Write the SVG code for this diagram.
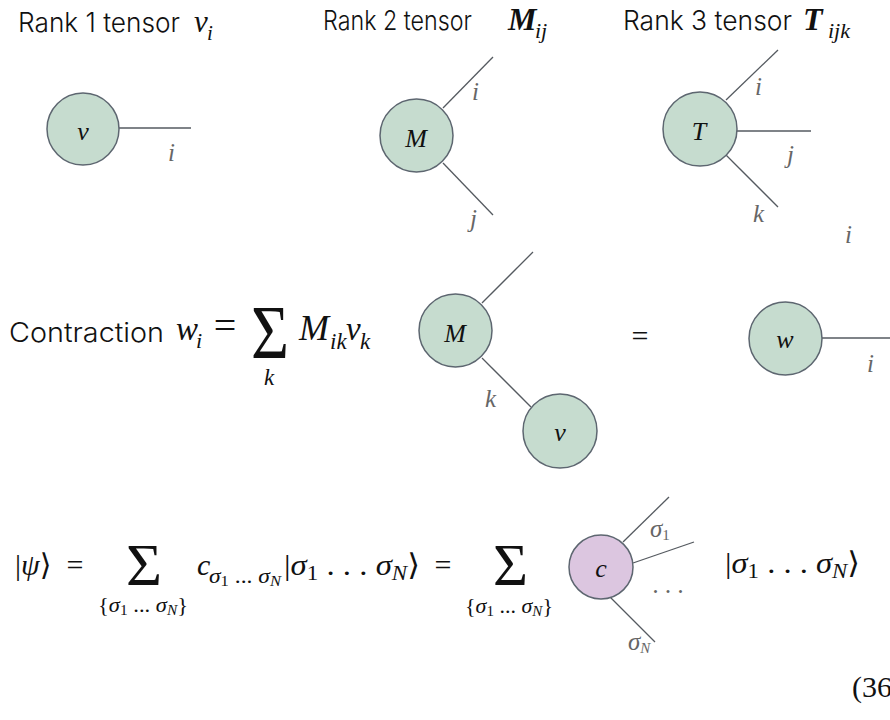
<svg xmlns="http://www.w3.org/2000/svg" width="890" height="720" viewBox="0 0 890 720">
<style>
.title{font-family:Inter,"Open Sans","Liberation Sans",sans-serif;font-weight:300;font-size:27px;fill:#111}
.m{font-family:"Liberation Serif","DejaVu Serif",serif;font-style:italic;fill:#111}
.mb{font-family:"Liberation Serif","DejaVu Serif",serif;font-style:italic;font-weight:bold;fill:#111}
.r{font-family:"Liberation Serif","DejaVu Serif",serif;fill:#111}
.node{fill:#c6dccf;stroke:#5d6670;stroke-width:1.5}
.nodep{fill:#dcc6e0;stroke:#5d6670;stroke-width:1.5}
.edge{stroke:#555a60;stroke-width:1.3;fill:none}
.lbl{font-family:"Liberation Serif","DejaVu Serif",serif;font-style:italic;fill:#666;font-size:25px}
.nl{font-family:"Liberation Serif","DejaVu Serif",serif;font-style:italic;fill:#111;font-size:26px;text-anchor:middle}
</style>
<rect width="890" height="720" fill="#fff"/>

<g id="titles">
<text class="title" x="18" y="32" textLength="162" lengthAdjust="spacingAndGlyphs">Rank 1 tensor</text>
<text class="m" x="194" y="32" font-size="31">v</text>
<text class="m" x="207" y="40" font-size="21">i</text>
<text class="title" x="323" y="30" textLength="149" lengthAdjust="spacingAndGlyphs">Rank 2 tensor</text>
<text class="mb" x="508" y="30" font-size="32">M</text>
<text class="m" x="535" y="38" font-size="22">ij</text>
<text class="title" x="623" y="30" textLength="169" lengthAdjust="spacingAndGlyphs">Rank 3 tensor</text>
<text class="mb" x="803" y="30" font-size="32">T</text>
<text class="m" x="828" y="38" font-size="22">ijk</text>
</g>

<g id="connectors">
<line class="edge" x1="119" y1="128" x2="191" y2="128"/>
<line class="edge" x1="443" y1="108" x2="493" y2="57"/>
<line class="edge" x1="443" y1="163" x2="493" y2="215"/>
<line class="edge" x1="726" y1="100" x2="778" y2="50"/>
<line class="edge" x1="737" y1="131" x2="811" y2="131"/>
<line class="edge" x1="726" y1="155" x2="778" y2="207"/>
<line class="edge" x1="482" y1="303" x2="533" y2="252"/>
<line class="edge" x1="482" y1="358" x2="531" y2="407"/>
<line class="edge" x1="822" y1="338" x2="890" y2="338"/>
<line class="edge" x1="623" y1="542" x2="669" y2="497"/>
<line class="edge" x1="633" y1="563" x2="694" y2="542"/>
<line class="edge" x1="610" y1="597" x2="655" y2="642"/>
</g>

<g id="edge-labels">
<text class="lbl" x="168" y="161">i</text>
<text class="lbl" x="472" y="100">i</text>
<text class="lbl" x="470" y="227">j</text>
<text class="lbl" x="755" y="95">i</text>
<text class="lbl" x="787" y="163">j</text>
<text class="lbl" x="753" y="222">k</text>
<text class="lbl" x="845" y="243">i</text>
<text class="lbl" x="485" y="407">k</text>
<text class="lbl" x="867" y="372">i</text>
<text class="lbl" x="650" y="537" font-size="22">σ<tspan font-style="normal" font-size="15" dy="3">1</tspan></text>
<text class="lbl" x="628" y="650" font-size="22">σ<tspan font-size="15" dy="3">N</tspan></text>
<text class="lbl" x="652" y="600" font-style="normal" font-size="18">· · ·</text>
</g>

<g id="node-v1"><circle class="node" cx="83" cy="129" r="36"/><text class="nl" x="83" y="140">v</text></g>
<g id="node-M1"><circle class="node" cx="416.5" cy="135.5" r="36.5"/><text class="nl" x="416" y="147">M</text></g>
<g id="node-T"><circle class="node" cx="700" cy="129" r="37"/><text class="nl" x="699" y="140">T</text></g>
<g id="node-M2"><circle class="node" cx="455.5" cy="330.5" r="36.5"/><text class="nl" x="455" y="342">M</text></g>
<g id="node-v2"><circle class="node" cx="560" cy="431" r="37"/><text class="nl" x="560" y="441">v</text></g>
<g id="node-w"><circle class="node" cx="785.5" cy="338.5" r="36.5"/><text class="nl" x="785" y="348">w</text></g>
<g id="node-c"><circle class="nodep" cx="601" cy="567" r="32"/><text class="nl" x="601" y="577" font-size="27">c</text></g>

<g id="contraction">
<text class="title" x="9" y="342" font-size="29" textLength="155" lengthAdjust="spacingAndGlyphs">Contraction</text>
<text class="m" x="176" y="340" font-size="33">w</text>
<text class="m" x="196" y="348" font-size="22">i</text>
<text class="r" x="225" y="339" font-size="40" text-anchor="middle">=</text>
<text class="r" x="251" y="358" font-size="77" textLength="38" lengthAdjust="spacingAndGlyphs">Σ</text>
<text class="m" x="264" y="385" font-size="23">k</text>
<text class="m" x="299" y="340" font-size="36">M</text>
<text class="m" x="330" y="349" font-size="23">ik</text>
<text class="m" x="346" y="340" font-size="33">v</text>
<text class="m" x="360" y="349" font-size="23">k</text>
<text class="r" x="640" y="346" font-size="30" text-anchor="middle" fill="#555">=</text>
</g>

<g id="state">
<text class="r" x="15" y="575" font-size="30">|<tspan font-style="italic">ψ</tspan>⟩</text>
<text class="r" x="75" y="575" font-size="30" text-anchor="middle">=</text>
<text class="r" x="126" y="585" font-size="60" textLength="36" lengthAdjust="spacingAndGlyphs">Σ</text>
<text class="r" x="98" y="612" font-size="22" textLength="90" lengthAdjust="spacingAndGlyphs">{<tspan font-style="italic">σ</tspan><tspan font-size="15" dy="3">1</tspan><tspan dy="-3"> ... </tspan><tspan font-style="italic">σ</tspan><tspan font-style="italic" font-size="15" dy="3">N</tspan><tspan dy="-3">}</tspan></text>
<text class="m" x="197" y="575" font-size="30">c</text>
<text class="r" x="209" y="583" font-size="20" textLength="72" lengthAdjust="spacingAndGlyphs"><tspan font-style="italic">σ</tspan><tspan font-size="14" dy="3">1</tspan><tspan dy="-3"> ... </tspan><tspan font-style="italic">σ</tspan><tspan font-style="italic" font-size="14" dy="3">N</tspan></text>
<text class="r" x="284" y="575" font-size="30" textLength="136" lengthAdjust="spacingAndGlyphs">|<tspan font-style="italic">σ</tspan><tspan font-size="21" dy="5">1</tspan><tspan dy="-5"> . . . </tspan><tspan font-style="italic">σ</tspan><tspan font-style="italic" font-size="21" dy="5">N</tspan><tspan dy="-5">⟩</tspan></text>
<text class="r" x="443" y="575" font-size="30" text-anchor="middle">=</text>
<text class="r" x="493" y="585" font-size="60" textLength="35" lengthAdjust="spacingAndGlyphs">Σ</text>
<text class="r" x="465" y="613" font-size="22" textLength="88" lengthAdjust="spacingAndGlyphs">{<tspan font-style="italic">σ</tspan><tspan font-size="15" dy="3">1</tspan><tspan dy="-3"> ... </tspan><tspan font-style="italic">σ</tspan><tspan font-style="italic" font-size="15" dy="3">N</tspan><tspan dy="-3">}</tspan></text>
<text class="r" x="725" y="573" font-size="30" textLength="135" lengthAdjust="spacingAndGlyphs">|<tspan font-style="italic">σ</tspan><tspan font-size="21" dy="5">1</tspan><tspan dy="-5"> . . . </tspan><tspan font-style="italic">σ</tspan><tspan font-style="italic" font-size="21" dy="5">N</tspan><tspan dy="-5">⟩</tspan></text>
<text class="r" x="852" y="697" font-size="30">(36</text>
</g>
</svg>
